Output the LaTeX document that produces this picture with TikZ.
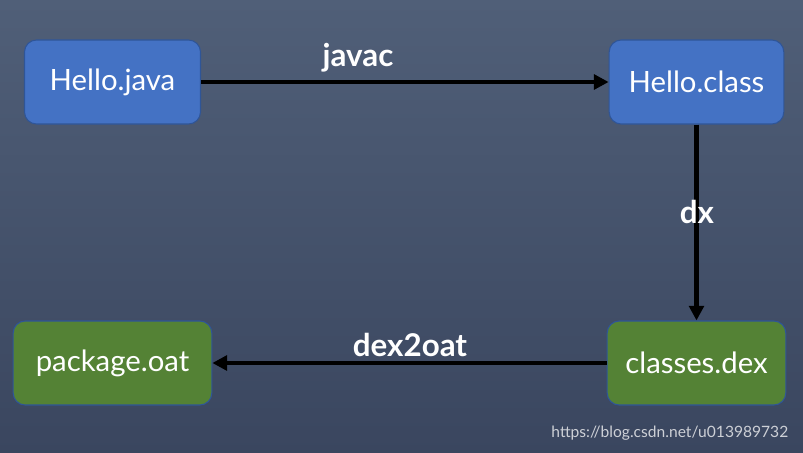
\documentclass[tikz,border=0pt]{standalone}
\usepackage{fontspec}
\setmainfont{Lato}
\usepackage{xcolor}
\usetikzlibrary{arrows.meta, positioning}
\definecolor{bgtop}{RGB}{80,95,120}
\definecolor{bgbottom}{RGB}{58,70,95}
\definecolor{srcblue}{RGB}{68,114,196}
\definecolor{edgeblue}{RGB}{47,85,151}
\definecolor{outgreen}{RGB}{84,130,53}
\definecolor{markgray}{RGB}{205,208,214}

\begin{document}
\begin{tikzpicture}[
  x=0.75pt, y=-0.75pt,
  file/.style={rectangle, rounded corners=9pt, draw=edgeblue, line width=0.8pt,
               minimum height=63pt, font=\fontsize{22}{26}\selectfont\color{white}},
  srcfile/.style={file, fill=srcblue},
  outfile/.style={file, fill=outgreen},
  arrow/.style={-{Triangle[length=11pt,width=11pt]}, line width=3.2pt, black},
  tool/.style={font=\fontsize{23.5}{28}\selectfont\bfseries\color{white}}
]
  % background
  \shade[top color=bgtop, bottom color=bgbottom] (0,0) rectangle (803,453);
  \useasboundingbox (0,0) rectangle (803,453);

  \node[srcfile, minimum width=132pt] (java) at (112.5,82) {Hello.java};
  \node[srcfile, minimum width=131pt] (class) at (696.5,82) {Hello.class};
  \node[outfile, minimum width=134pt] (dex) at (696.5,363) {classes.dex};
  \node[outfile, minimum width=149pt] (oat) at (112.5,363) {package.oat};

  \draw[arrow] (java) -- (class);
  \draw[arrow] (class) -- (dex);
  \draw[arrow] (dex) -- (oat);

  % tool labels
  \node[tool] (javac) at (358,58) {javac};
  \node[tool] (dx) at (697,212) {dx};
  \node[tool] (dex2oat) at (410,345) {dex2oat};

  \node[font=\fontsize{11.7}{14}\selectfont\color{markgray}, anchor=east] (mark) at (793,433) {https://blog.csdn.net/u013989732};
\end{tikzpicture}
\end{document}
